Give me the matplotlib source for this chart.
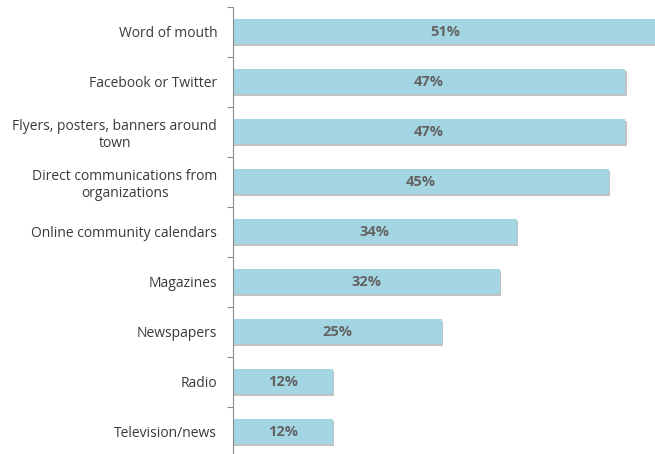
import matplotlib
matplotlib.use("Agg")
import matplotlib.pyplot as plt
import matplotlib.patheffects as pe
import numpy as np

plt.rcParams['font.family'] = ['Open Sans', 'DejaVu Sans']

categories = [
    "Word of mouth",
    "Facebook or Twitter",
    "Flyers, posters, banners around\ntown",
    "Direct communications from\norganizations",
    "Online community calendars",
    "Magazines",
    "Newspapers",
    "Radio",
    "Television/news",
]
values = [51, 47, 47, 45, 34, 32, 25, 12, 12]
value_labels = ["51%", "47%", "47%", "45%", "34%", "32%", "25%", "12%", "12%"]

W, H = 655, 454
fig = plt.figure(figsize=(W / 100, H / 100), dpi=100)
ax = fig.add_axes([232.5 / W, -2.5 / H, (W - 232.5) / W, 450 / H])

y = np.arange(len(categories))
bars = ax.barh(y, values, height=0.5, color="#A4D5E3", zorder=2)
for b in bars:
    b.set_path_effects([
        pe.SimplePatchShadow(offset=(1.0, -1.6), shadow_rgbFace="#9a9a9a", alpha=0.6),
        pe.Normal(),
    ])

for yi, v, lab in zip(y, values, value_labels):
    ax.text(v / 2, yi, lab, ha="center", va="center", fontsize=10.5,
            fontweight="bold", color="#636363", zorder=3)

ax.set_xlim(0, 422.5 / 8.36)
ax.set_ylim(len(categories) - 0.5, -0.5)

ax.set_yticks(y)
ax.set_yticklabels(categories, fontsize=10, color="#3a3a3a", multialignment="center")
ax.tick_params(axis="y", which="major", length=0, pad=11)
ax.set_yticks(np.arange(-0.5, len(categories), 1.0), minor=True)
ax.tick_params(axis="y", which="minor", length=4, width=0.8, color="#8c8c8c", direction="out")
ax.set_xticks([])

for s in ["top", "right", "bottom"]:
    ax.spines[s].set_visible(False)
ax.spines["left"].set_color("#8c8c8c")
ax.spines["left"].set_linewidth(0.8)

fig.savefig("out.png", dpi=100)
